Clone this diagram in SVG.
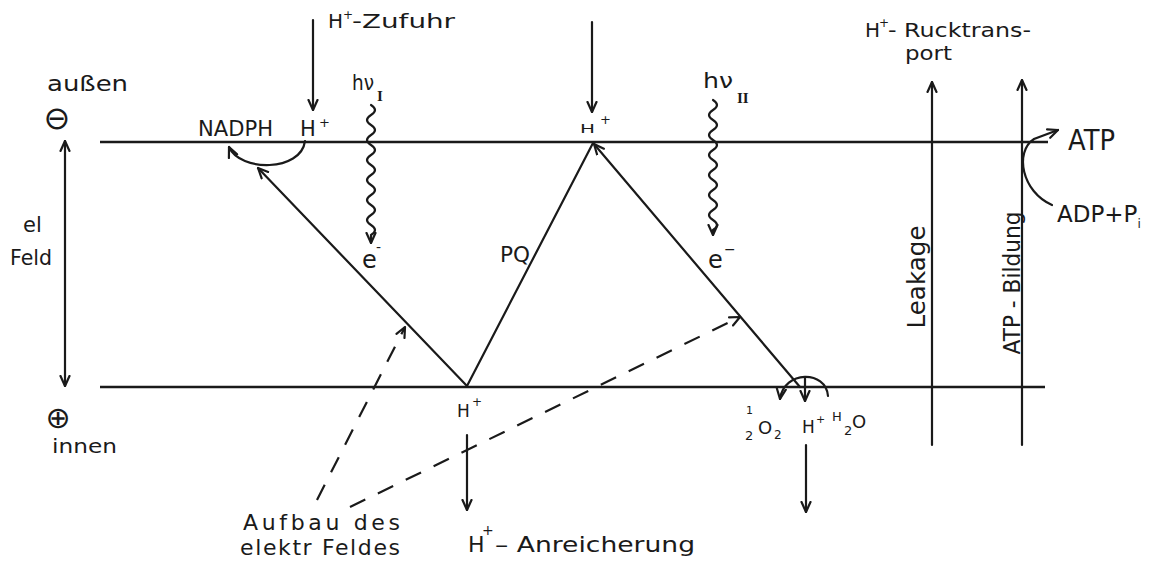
<svg xmlns="http://www.w3.org/2000/svg" width="1151" height="563" viewBox="0 0 1151 563">
<style>
  text { font-family: "DejaVu Sans", "Liberation Sans", sans-serif; fill: #1a1a1a; }
  .ln { stroke: #1a1a1a; stroke-width: 2.2; fill: none; stroke-linecap: round; }
  .mem { stroke: #1a1a1a; stroke-width: 2.4; fill: none; }
  .dash { stroke: #1a1a1a; stroke-width: 2.2; fill: none; stroke-dasharray: 17 14; }
  .arr { marker-end: url(#ah); }
  .rom { font-family: "Liberation Serif", serif; font-weight: bold; }
</style>
<defs>
  <marker id="ah" viewBox="0 0 12 12" refX="11" refY="6" markerWidth="12" markerHeight="12" markerUnits="userSpaceOnUse" orient="auto-start-reverse">
    <path d="M1,1.5 L11,6 L1,10.5" fill="none" stroke="#1a1a1a" stroke-width="2.2" stroke-linecap="round" stroke-linejoin="round"/>
  </marker>
</defs>
<rect width="1151" height="563" fill="#ffffff"/>

<g id="connectors">
  <!-- membranes -->
  <line class="mem" x1="100" y1="142" x2="1048" y2="142"/>
  <line class="mem" x1="100" y1="387" x2="1045" y2="387"/>
  <!-- electric field double arrow -->
  <line class="ln" x1="65" y1="386" x2="65" y2="141" marker-start="url(#ah)" marker-end="url(#ah)"/>
  <!-- H+ supply arrows -->
  <line class="ln arr" x1="313" y1="20" x2="313" y2="110"/>
  <line class="ln arr" x1="592" y1="22" x2="592" y2="112"/>
  <!-- NADPH arc -->
  <path class="ln arr" d="M305,141 C301,172 240,172 229,147"/>
  <!-- light waves -->
  <path class="ln arr" d="M371,105 q8,5 0,10 t0,10 t0,10 t0,10 t0,10 t0,10 t0,10 t0,10 t0,10 t0,10 t0,10 t0,10 t0,10 l0,8"/>
  <path class="ln arr" d="M713,100 q8,5 0,10 t0,10 t0,10 t0,10 t0,10 t0,10 t0,10 t0,10 t0,10 t0,10 t0,10 t0,10 t0,10 l0,5"/>
  <!-- electron / PQ paths -->
  <line class="ln arr" x1="467" y1="386" x2="258" y2="168"/>
  <line class="ln" x1="467" y1="386" x2="593" y2="143"/>
  <line class="ln arr" x1="800" y1="387" x2="594" y2="144"/>
  <!-- dashed field build-up -->
  <line class="dash arr" x1="317" y1="500" x2="405" y2="327"/>
  <line class="dash arr" x1="350" y1="507" x2="740" y2="317"/>
  <!-- H2O splitting -->
  <path class="ln arr" d="M828,396 C826,370 784,370 780,399"/>
  <line class="ln arr" x1="805" y1="377" x2="805" y2="401"/>
  <!-- H+ accumulation -->
  <line class="ln arr" x1="467" y1="435" x2="467" y2="510"/>
  <line class="ln arr" x1="806" y1="445" x2="806" y2="512"/>
  <!-- back transport -->
  <line class="ln arr" x1="932" y1="445" x2="932" y2="82"/>
  <line class="ln arr" x1="1022" y1="445" x2="1022" y2="80"/>
  <!-- ATP formation -->
  <path class="ln arr" d="M1052,205 C1022,192 1014,152 1034,139 L1058,130"/>
</g>

<g id="node-aussen">
  <text x="47" y="91" font-size="21" textLength="81" lengthAdjust="spacingAndGlyphs">außen</text>
  <text x="57" y="129" font-size="32" text-anchor="middle">⊖</text>
</g>
<g id="node-feld">
  <text x="23" y="232" font-size="21">el</text>
  <text x="10" y="265" font-size="21" textLength="42" lengthAdjust="spacingAndGlyphs">Feld</text>
</g>
<g id="node-innen">
  <text x="58" y="428" font-size="30" text-anchor="middle">⊕</text>
  <text x="52" y="453" font-size="19" textLength="65" lengthAdjust="spacingAndGlyphs">innen</text>
</g>
<g id="node-zufuhr">
  <text x="328" y="28" font-size="20">H</text>
  <text x="343" y="19" font-size="12">+</text>
  <text x="352" y="28" font-size="20" textLength="103" lengthAdjust="spacingAndGlyphs">-Zufuhr</text>
</g>
<g id="node-nadph">
  <text x="198" y="136" font-size="21" textLength="75" lengthAdjust="spacingAndGlyphs">NADPH</text>
  <text x="300" y="136" font-size="21">H</text>
  <text x="319" y="127" font-size="13">+</text>
</g>
<g id="node-hv1">
  <text x="352" y="90" font-size="21" textLength="22" lengthAdjust="spacingAndGlyphs">hν</text>
  <text x="377" y="101" font-size="15" class="rom">I</text>
</g>
<g id="node-e1">
  <text x="362" y="268" font-size="24">e</text>
  <text x="376" y="252" font-size="14">-</text>
</g>
<g id="node-pq">
  <text x="500" y="262" font-size="21" textLength="30" lengthAdjust="spacingAndGlyphs">PQ</text>
</g>
<g id="node-h-top">
  <text x="580" y="133" font-size="12" textLength="15" lengthAdjust="spacingAndGlyphs">H</text>
  <text x="600" y="124" font-size="13">+</text>
</g>
<g id="node-hv2">
  <text x="703" y="88" font-size="21" textLength="30" lengthAdjust="spacingAndGlyphs">hν</text>
  <text x="737" y="103" font-size="15" class="rom">II</text>
</g>
<g id="node-e2">
  <text x="708" y="268" font-size="24">e</text>
  <text x="724" y="254" font-size="14">−</text>
</g>
<g id="node-ruecktransport">
  <text x="865" y="37" font-size="20">H</text>
  <text x="879" y="27" font-size="12">+</text>
  <text x="888" y="37" font-size="20" textLength="143" lengthAdjust="spacingAndGlyphs">- Rucktrans-</text>
  <text x="905" y="60" font-size="19" textLength="47" lengthAdjust="spacingAndGlyphs">port</text>
</g>
<g id="node-leakage">
  <text transform="translate(925,277) rotate(-90)" font-size="24" text-anchor="middle" textLength="103" lengthAdjust="spacingAndGlyphs">Leakage</text>
</g>
<g id="node-atp-bildung">
  <text transform="translate(1020,283) rotate(-90)" font-size="23" text-anchor="middle" textLength="143" lengthAdjust="spacingAndGlyphs">ATP - Bildung</text>
</g>
<g id="node-atp">
  <text x="1068" y="150" font-size="28" textLength="47" lengthAdjust="spacingAndGlyphs">ATP</text>
  <text x="1057" y="222" font-size="23">ADP+P<tspan font-size="12" dy="6">i</tspan></text>
</g>
<g id="node-h-bottom">
  <text x="457" y="417" font-size="17">H</text>
  <text x="472" y="406" font-size="12">+</text>
</g>
<g id="node-water">
  <text x="746" y="414" font-size="11">1</text>
  <text x="745" y="440" font-size="13">2</text>
  <text x="758" y="434" font-size="18">O</text>
  <text x="774" y="439" font-size="12">2</text>
  <text x="802" y="433" font-size="17">H</text>
  <text x="816" y="423" font-size="11">+</text>
  <text x="832" y="421" font-size="13">H</text>
  <text x="844" y="435" font-size="13">2</text>
  <text x="852" y="428" font-size="18">O</text>
</g>
<g id="node-aufbau">
  <text x="243" y="530" font-size="22" textLength="157" lengthAdjust="spacing">Aufbau des</text>
  <text x="240" y="555" font-size="22" textLength="160" lengthAdjust="spacing">elektr Feldes</text>
</g>
<g id="node-anreicherung">
  <text x="468" y="552" font-size="22">H</text>
  <text x="482" y="535" font-size="14">+</text>
  <text x="495" y="552" font-size="22" textLength="200" lengthAdjust="spacingAndGlyphs">– Anreicherung</text>
</g>
</svg>
